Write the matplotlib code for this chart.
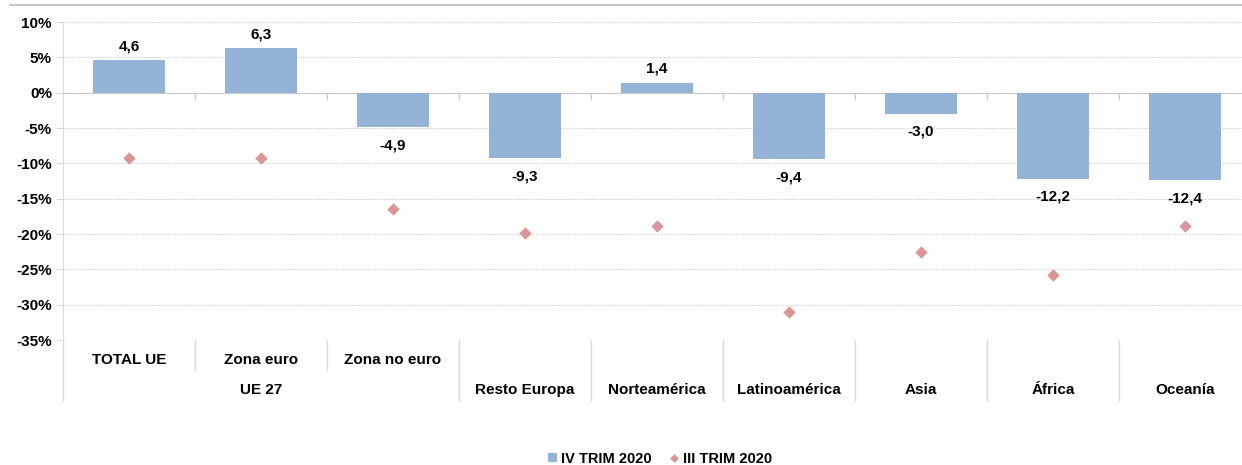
import matplotlib.pyplot as plt
from matplotlib.lines import Line2D
from matplotlib.patches import Patch
import matplotlib.transforms as mtransforms

plt.rcParams['font.family'] = ['Liberation Sans', 'DejaVu Sans']
plt.rcParams['font.weight'] = 'bold'

# datos
categorias = ["TOTAL UE", "Zona euro", "Zona no euro", "Resto Europa", "Norteamérica",
              "Latinoamérica", "Asia", "África", "Oceanía"]
iv_trim = [4.6, 6.3, -4.9, -9.3, 1.4, -9.4, -3.0, -12.2, -12.4]
iii_trim = [-9.2, -9.2, -16.4, -19.8, -18.8, -31.1, -22.5, -25.8, -18.8]
yticks = [10, 5, 0, -5, -10, -15, -20, -25, -30, -35]

azul = "#95b3d7"
rosa = "#d99694"
gris = "#d9d9d9"
fs = 11

fig = plt.figure(figsize=(12.42, 4.65), dpi=100)
W, H = 1242, 465
ax = fig.add_axes([63 / W, 1 - 340 / H, 1188 / W, 318 / H])

x = list(range(len(categorias)))
ax.bar(x, iv_trim, width=0.55, color=azul, zorder=3)
ax.scatter(x, iii_trim, marker="D", s=40, color=rosa, zorder=4, linewidths=0)

for xi, v in zip(x, iv_trim):
    txt = f"{v:.1f}".replace(".", ",")
    off = 10 if v >= 0 else -13
    ax.annotate(txt, (xi, v), xytext=(0, off), textcoords="offset points",
                ha="center", va="center", fontsize=fs, fontweight="bold")

ax.set_xlim(-0.5, len(categorias) - 0.5)
ax.set_ylim(-35, 10)
ax.set_yticks(yticks)
ax.set_yticklabels([f"{t}%" for t in yticks], fontsize=fs, fontweight="bold")
ax.yaxis.grid(True, color=gris, linestyle=(0, (1.5, 1)), linewidth=0.8, zorder=0)
ax.tick_params(axis="y", length=5, color=gris, pad=3)

# eje x en cero con marcas en los limites de categoria
ax.spines["bottom"].set_position(("data", 0))
ax.spines["bottom"].set_color("#c8c8c8")
ax.set_xticks([i + 0.5 for i in range(len(categorias) - 1)])
ax.set_xticklabels([])
ax.tick_params(axis="x", length=5, color="#c8c8c8", direction="out")
ax.spines["top"].set_visible(False)
ax.spines["right"].set_visible(False)
ax.spines["left"].set_color(gris)

# etiquetas de categoria bajo el grafico
trans = mtransforms.blended_transform_factory(ax.transData, ax.transAxes)
fila1 = -20 / 318
fila2 = -50 / 318
for i, c in enumerate(categorias):
    y = fila1 if i < 3 else fila2
    ax.text(i, y, c, transform=trans, ha="center", va="center", fontsize=fs, fontweight="bold")
ax.text(1, fila2, "UE 27", transform=trans, ha="center", va="center", fontsize=fs, fontweight="bold")

for i in range(len(categorias) + 1):
    xb = i - 0.5
    bajo = -30 / 318 if i in (1, 2) else -60 / 318
    ax.plot([xb, xb], [0, bajo], transform=trans, color=gris, linewidth=1, clip_on=False)

# linea superior
fig.add_artist(Line2D([10 / W, 1], [1 - 5 / H, 1 - 5 / H], color="#c8c8c8", linewidth=1.5))

handles = [Patch(facecolor=azul, edgecolor="none"),
           Line2D([], [], marker="D", color=rosa, linestyle="none", markersize=3.5)]
fig.legend(handles, ["IV TRIM 2020", "III TRIM 2020"], loc="center",
           bbox_to_anchor=(660 / W, 6 / H), ncol=2, frameon=False,
           prop={"size": 10.5, "weight": "bold"}, handlelength=0.6, handleheight=0.6,
           handletextpad=0.3, columnspacing=1.2)

fig.savefig("out.png", dpi=100)
